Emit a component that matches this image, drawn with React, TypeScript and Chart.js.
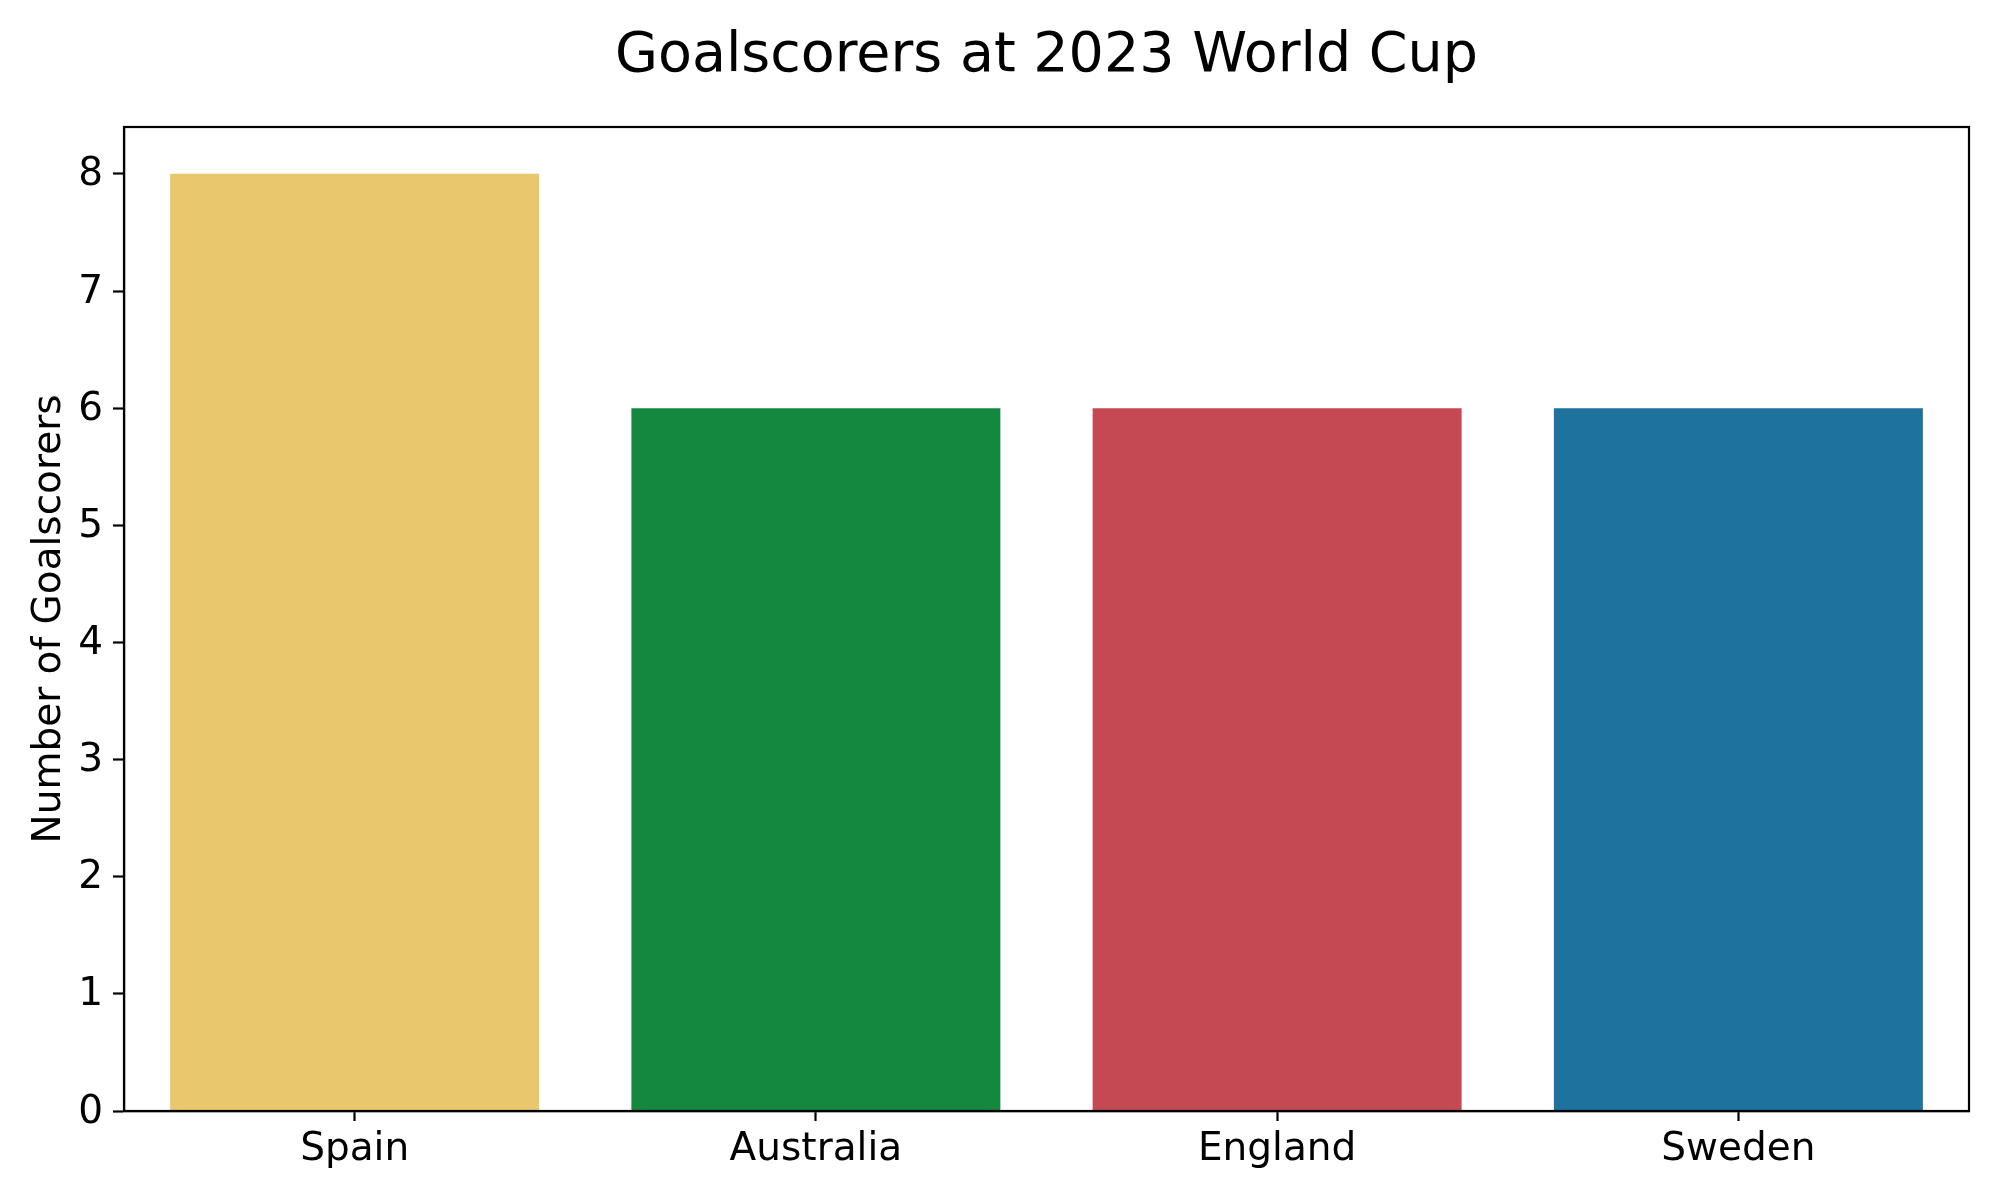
import React, { useEffect, useRef } from "react";
import { Chart, registerables } from "chart.js";

Chart.register(...registerables);

const categories = ["Spain", "Australia", "England", "Sweden"];
const goalscorers = [8, 6, 6, 6];
const barColors = ["#E9C76C", "#15883F", "#C44953", "#1D739E"];
const yTicks = [0, 1, 2, 3, 4, 5, 6, 7, 8];
const titleText = "Goalscorers at 2023 World Cup";
const yLabel = "Number of Goalscorers";

const FONT = "'DejaVu Sans', 'Liberation Sans', sans-serif";

const framePlugin = {
  id: "frame",
  afterDraw(chart: any) {
    const { ctx, chartArea } = chart;
    ctx.save();
    ctx.strokeStyle = "#000000";
    ctx.lineWidth = 2.2;
    ctx.strokeRect(
      chartArea.left,
      chartArea.top,
      chartArea.right - chartArea.left,
      chartArea.bottom - chartArea.top
    );
    ctx.restore();
  },
};

export default function App() {
  const canvasRef = useRef<HTMLCanvasElement | null>(null);

  useEffect(() => {
    if (!canvasRef.current) return;
    const chart = new Chart(canvasRef.current, {
      type: "bar",
      data: {
        labels: categories,
        datasets: [
          {
            label: yLabel,
            data: goalscorers,
            backgroundColor: barColors,
            borderWidth: 0,
            barPercentage: 0.8,
            categoryPercentage: 1.0,
          },
        ],
      },
      options: {
        responsive: false,
        animation: false,
        devicePixelRatio: 1,
        layout: { padding: { left: 0, right: 30, top: 0, bottom: 0 } },
        plugins: {
          legend: { display: false },
          tooltip: { enabled: false },
          title: {
            display: true,
            text: titleText,
            fullSize: false,
            color: "#000000",
            font: { family: FONT, size: 55.5, weight: "normal", lineHeight: 1.2 },
            padding: { top: 23, bottom: 37.4 },
          },
        },
        scales: {
          x: {
            type: "category",
            offset: true,
            grid: {
              display: true,
              drawOnChartArea: false,
              drawTicks: true,
              tickLength: 10,
              tickWidth: 2.2,
              tickColor: "#000000",
              offset: false,
            },
            border: { display: true, color: "#000000", width: 2.2 },
            ticks: {
              color: "#000000",
              padding: 5,
              maxRotation: 0,
              font: { family: FONT, size: 39, lineHeight: 1.2 },
            },
            afterFit(scale: any) {
              scale.height = 89;
            },
          },
          y: {
            type: "linear",
            min: 0,
            max: 8.4,
            grid: {
              display: true,
              drawOnChartArea: false,
              drawTicks: true,
              tickLength: 11,
              tickWidth: 2.2,
              tickColor: "#000000",
            },
            border: { display: true, color: "#000000", width: 2.2 },
            ticks: {
              stepSize: 1,
              includeBounds: false,
              color: "#000000",
              padding: 10,
              labelOffset: 1.5,
              font: { family: FONT, size: 39, lineHeight: 1.2 },
            },
            afterBuildTicks(scale: any) {
              scale.ticks = yTicks.map((v) => ({ value: v }));
            },
            title: {
              display: true,
              text: yLabel,
              color: "#000000",
              font: { family: FONT, size: 39, lineHeight: 1.2 },
              padding: { top: 26, bottom: 0 },
            },
            afterFit(scale: any) {
              scale.width = 124;
            },
          },
        },
      },
      plugins: [framePlugin],
    });
    return () => chart.destroy();
  }, []);

  return (
    <div style={{ position: "absolute", left: 0, top: 0, width: 1999, height: 1200, background: "#ffffff" }}>
      <canvas ref={canvasRef} width={1999} height={1200} style={{ display: "block" }} />
    </div>
  );
}
